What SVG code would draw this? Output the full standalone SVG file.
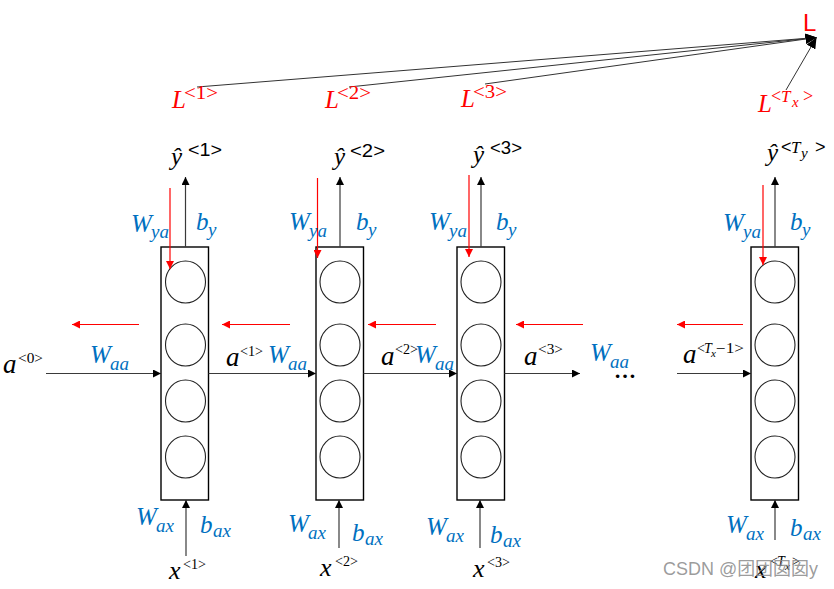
<svg xmlns="http://www.w3.org/2000/svg" width="834" height="589" viewBox="0 0 834 589">
<style>
.bg{fill:#fff}
.cell{fill:#fff;stroke:#000;stroke-width:1.4}
.neu{fill:none;stroke:#222;stroke-width:1.1}
.k{stroke:#3a3a3a;stroke-width:1.2;fill:none}
.r{stroke:#ff0000;stroke-width:1.2;fill:none}
.lk{stroke:#333;stroke-width:1;fill:none}
.mi{font-family:"Liberation Serif","DejaVu Serif",serif;font-style:italic}
.up{font-family:"Liberation Serif","DejaVu Serif",serif;font-style:normal}
.sans{font-family:"Liberation Sans","DejaVu Sans",sans-serif;font-style:normal}
.blue{fill:#0070c0}
.red{fill:#ff0000}
.blk{fill:#000}
.wm{font-family:"Liberation Sans","Noto Sans CJK SC",sans-serif;fill:#8a8a8a;fill-opacity:0.85}
</style>
<defs>
<marker id="ak" markerUnits="userSpaceOnUse" markerWidth="9" markerHeight="8" refX="8" refY="4" orient="auto"><path d="M0,0 L8,4 L0,8 z" fill="#000"/></marker>
<marker id="ar" markerUnits="userSpaceOnUse" markerWidth="9" markerHeight="8" refX="8" refY="4" orient="auto"><path d="M0,0 L8,4 L0,8 z" fill="#ff0000"/></marker>
<marker id="aL" markerUnits="userSpaceOnUse" markerWidth="12" markerHeight="10" refX="11" refY="5" orient="auto"><path d="M0,0 L11,5 L0,10 z" fill="#000"/></marker>
</defs>
<rect class="bg" x="0" y="0" width="834" height="589"/>

<g id="cell1">
<rect class="cell" x="161" y="247" width="47.5" height="253"/>
<ellipse class="neu" cx="185.5" cy="282" rx="20" ry="21"/>
<ellipse class="neu" cx="185.5" cy="345" rx="20" ry="21"/>
<ellipse class="neu" cx="185.5" cy="401" rx="20" ry="21"/>
<ellipse class="neu" cx="185.5" cy="457" rx="20" ry="21"/>
</g>
<g id="cell2">
<rect class="cell" x="316" y="247" width="47.5" height="253"/>
<ellipse class="neu" cx="340" cy="282" rx="20" ry="21"/>
<ellipse class="neu" cx="340" cy="345" rx="20" ry="21"/>
<ellipse class="neu" cx="340" cy="401" rx="20" ry="21"/>
<ellipse class="neu" cx="340" cy="457" rx="20" ry="21"/>
</g>
<g id="cell3">
<rect class="cell" x="457" y="247" width="47.5" height="253"/>
<ellipse class="neu" cx="481" cy="282" rx="20" ry="21"/>
<ellipse class="neu" cx="481" cy="345" rx="20" ry="21"/>
<ellipse class="neu" cx="481" cy="401" rx="20" ry="21"/>
<ellipse class="neu" cx="481" cy="457" rx="20" ry="21"/>
</g>
<g id="cell4">
<rect class="cell" x="751" y="247" width="47.5" height="253"/>
<ellipse class="neu" cx="775" cy="282" rx="20" ry="21"/>
<ellipse class="neu" cx="775" cy="345" rx="20" ry="21"/>
<ellipse class="neu" cx="775" cy="401" rx="20" ry="21"/>
<ellipse class="neu" cx="775" cy="457" rx="20" ry="21"/>
</g>

<g id="connectors">
<line class="lk" x1="197" y1="87" x2="816.5" y2="37.5" marker-end="url(#aL)"/>
<line class="lk" x1="349" y1="87" x2="816.5" y2="37.5" marker-end="url(#aL)"/>
<line class="lk" x1="485" y1="84" x2="816.5" y2="37.5" marker-end="url(#aL)"/>
<line class="lk" x1="786" y1="90" x2="816.5" y2="37.5" marker-end="url(#aL)"/>
<line class="k" x1="185.5" y1="247" x2="185.5" y2="177" marker-end="url(#ak)"/>
<line class="k" x1="340" y1="247" x2="340" y2="177" marker-end="url(#ak)"/>
<line class="k" x1="481" y1="247" x2="481" y2="177" marker-end="url(#ak)"/>
<line class="k" x1="775" y1="247" x2="775" y2="177" marker-end="url(#ak)"/>
<line class="r" x1="170" y1="188" x2="170" y2="269" marker-end="url(#ar)"/>
<line class="r" x1="317.5" y1="178" x2="317.5" y2="258" marker-end="url(#ar)"/>
<line class="r" x1="469" y1="175" x2="469" y2="257" marker-end="url(#ar)"/>
<line class="r" x1="763" y1="185" x2="763" y2="265" marker-end="url(#ar)"/>
<line class="k" x1="186" y1="556" x2="186" y2="500" marker-end="url(#ak)"/>
<line class="k" x1="339" y1="548" x2="339" y2="500" marker-end="url(#ak)"/>
<line class="k" x1="480" y1="548" x2="480" y2="500" marker-end="url(#ak)"/>
<line class="k" x1="775" y1="540" x2="775" y2="500" marker-end="url(#ak)"/>
<line class="k" x1="46" y1="373.5" x2="161" y2="373.5" marker-end="url(#ak)"/>
<line class="k" x1="208.5" y1="373.5" x2="316" y2="373.5" marker-end="url(#ak)"/>
<line class="k" x1="363.5" y1="373.5" x2="457" y2="373.5" marker-end="url(#ak)"/>
<line class="k" x1="504.5" y1="373.5" x2="580" y2="373.5" marker-end="url(#ak)"/>
<line class="k" x1="677" y1="373.5" x2="751" y2="373.5" marker-end="url(#ak)"/>
<line class="r" x1="139" y1="324.5" x2="72" y2="324.5" marker-end="url(#ar)"/>
<line class="r" x1="290" y1="324.5" x2="222" y2="324.5" marker-end="url(#ar)"/>
<line class="r" x1="436" y1="324.5" x2="368" y2="324.5" marker-end="url(#ar)"/>
<line class="r" x1="583" y1="324.5" x2="516" y2="324.5" marker-end="url(#ar)"/>
<line class="r" x1="743" y1="324.5" x2="677" y2="324.5" marker-end="url(#ar)"/>
</g>

<g id="loss-labels">
<text class="sans red" x="803" y="31" font-size="24">L</text>
<text class="mi red" font-size="25"><tspan x="172" y="108">L</tspan><tspan class="up" x="184" y="99" font-size="18" textLength="34" lengthAdjust="spacingAndGlyphs">&lt;1&gt;</tspan></text>
<text class="mi red" font-size="25"><tspan x="325" y="108">L</tspan><tspan class="up" x="337" y="99" font-size="18" textLength="34" lengthAdjust="spacingAndGlyphs">&lt;2&gt;</tspan></text>
<text class="mi red" font-size="25"><tspan x="461" y="107">L</tspan><tspan class="up" x="473" y="98" font-size="18" textLength="34" lengthAdjust="spacingAndGlyphs">&lt;3&gt;</tspan></text>
<text class="mi red" font-size="25"><tspan x="758" y="112">L</tspan><tspan class="up" x="771" y="102" font-size="18">&lt;</tspan><tspan x="781" y="101.5" font-size="17">T</tspan><tspan x="792" y="107" font-size="15">x</tspan><tspan class="up" x="803" y="102" font-size="18">&gt;</tspan></text>
</g>

<g id="output-labels">
<text class="mi blk" font-size="25"><tspan x="171" y="165">ŷ</tspan><tspan class="sans" x="188" y="156" font-size="18" textLength="34" lengthAdjust="spacingAndGlyphs">&lt;1&gt;</tspan></text>
<text class="mi blk" font-size="25"><tspan x="334" y="165">ŷ</tspan><tspan class="sans" x="350" y="157" font-size="18" textLength="35" lengthAdjust="spacingAndGlyphs">&lt;2&gt;</tspan></text>
<text class="mi blk" font-size="25"><tspan x="473" y="163">ŷ</tspan><tspan class="sans" x="490" y="154" font-size="18" textLength="32" lengthAdjust="spacingAndGlyphs">&lt;3&gt;</tspan></text>
<text class="mi blk" font-size="25"><tspan x="767" y="161">ŷ</tspan><tspan class="sans" x="781" y="153" font-size="18">&lt;</tspan><tspan x="791" y="153" font-size="17">T</tspan><tspan x="801" y="158" font-size="15">y</tspan><tspan class="sans" x="815" y="153" font-size="18">&gt;</tspan></text>
</g>

<g id="weight-labels">
<text class="mi blue"><tspan x="131" y="232" font-size="25">W</tspan><tspan x="151" y="238" font-size="19">ya</tspan></text>
<text class="mi blue"><tspan x="196" y="230" font-size="25">b</tspan><tspan x="208" y="236" font-size="19">y</tspan></text>
<text class="mi blue"><tspan x="289" y="230" font-size="25">W</tspan><tspan x="309" y="237" font-size="19">ya</tspan></text>
<text class="mi blue"><tspan x="356" y="230" font-size="25">b</tspan><tspan x="368" y="236" font-size="19">y</tspan></text>
<text class="mi blue"><tspan x="429" y="230" font-size="25">W</tspan><tspan x="449" y="237" font-size="19">ya</tspan></text>
<text class="mi blue"><tspan x="496" y="230" font-size="25">b</tspan><tspan x="508" y="236" font-size="19">y</tspan></text>
<text class="mi blue"><tspan x="723" y="231" font-size="25">W</tspan><tspan x="743" y="238" font-size="19">ya</tspan></text>
<text class="mi blue"><tspan x="790" y="230" font-size="25">b</tspan><tspan x="802" y="236" font-size="19">y</tspan></text>

<text class="mi blue"><tspan x="90" y="363" font-size="25">W</tspan><tspan x="110" y="370" font-size="19">aa</tspan></text>
<text class="mi blue"><tspan x="268" y="363" font-size="25">W</tspan><tspan x="288" y="370" font-size="19">aa</tspan></text>
<text class="mi blue"><tspan x="415" y="363" font-size="25">W</tspan><tspan x="435" y="370" font-size="19">aa</tspan></text>
<text class="mi blue"><tspan x="590" y="361" font-size="25">W</tspan><tspan x="610" y="368" font-size="19">aa</tspan></text>

<text class="mi blue"><tspan x="136" y="525" font-size="25">W</tspan><tspan x="156" y="532" font-size="19">ax</tspan></text>
<text class="mi blue"><tspan x="200" y="533" font-size="25">b</tspan><tspan x="213" y="537" font-size="19">ax</tspan></text>
<text class="mi blue"><tspan x="288" y="532" font-size="25">W</tspan><tspan x="308" y="539" font-size="19">ax</tspan></text>
<text class="mi blue"><tspan x="352" y="541" font-size="25">b</tspan><tspan x="365" y="545" font-size="19">ax</tspan></text>
<text class="mi blue"><tspan x="426" y="535" font-size="25">W</tspan><tspan x="446" y="542" font-size="19">ax</tspan></text>
<text class="mi blue"><tspan x="490" y="543" font-size="25">b</tspan><tspan x="503" y="547" font-size="19">ax</tspan></text>
<text class="mi blue"><tspan x="726" y="533" font-size="25">W</tspan><tspan x="746" y="540" font-size="19">ax</tspan></text>
<text class="mi blue"><tspan x="790" y="536" font-size="25">b</tspan><tspan x="803" y="540" font-size="19">ax</tspan></text>
</g>

<g id="state-labels">
<text class="mi blk" font-size="27"><tspan x="3" y="373">a</tspan><tspan class="up" x="18" y="363" font-size="15" textLength="25" lengthAdjust="spacingAndGlyphs">&lt;0&gt;</tspan></text>
<text class="mi blk" font-size="27"><tspan x="226" y="366">a</tspan><tspan class="up" x="240" y="356" font-size="15" textLength="23" lengthAdjust="spacingAndGlyphs">&lt;1&gt;</tspan></text>
<text class="mi blk" font-size="27"><tspan x="381" y="365">a</tspan><tspan class="up" x="395" y="354" font-size="15" textLength="23" lengthAdjust="spacingAndGlyphs">&lt;2&gt;</tspan></text>
<text class="mi blk" font-size="27"><tspan x="524" y="365">a</tspan><tspan class="up" x="538" y="354" font-size="15" textLength="25" lengthAdjust="spacingAndGlyphs">&lt;3&gt;</tspan></text>
<text class="up blk" x="614" y="378" font-size="22" font-weight="bold">…</text>
<text class="mi blk" font-size="27"><tspan x="683" y="363">a</tspan><tspan class="up" x="697" y="353" font-size="14">&lt;</tspan><tspan x="704" y="353" font-size="14">T</tspan><tspan x="711" y="357" font-size="11">x</tspan><tspan class="up" x="716" y="353" font-size="14" textLength="28" lengthAdjust="spacingAndGlyphs">−1&gt;</tspan></text>

<text class="mi blk" font-size="26"><tspan x="169" y="579">x</tspan><tspan class="up" x="183" y="569" font-size="15" textLength="23" lengthAdjust="spacingAndGlyphs">&lt;1&gt;</tspan></text>
<text class="mi blk" font-size="26"><tspan x="320" y="576">x</tspan><tspan class="up" x="335" y="566" font-size="15" textLength="23" lengthAdjust="spacingAndGlyphs">&lt;2&gt;</tspan></text>
<text class="mi blk" font-size="26"><tspan x="473" y="577">x</tspan><tspan class="up" x="487" y="567" font-size="15" textLength="23" lengthAdjust="spacingAndGlyphs">&lt;3&gt;</tspan></text>
<text class="mi blk" font-size="26"><tspan x="755" y="578">x</tspan><tspan class="up" x="770" y="566" font-size="14">&lt;</tspan><tspan x="777" y="566" font-size="14">T</tspan><tspan x="785" y="570" font-size="11">x</tspan><tspan class="up" x="792" y="566" font-size="14">&gt;</tspan></text>
</g>

<text class="wm" x="663" y="575" font-size="18" textLength="155" lengthAdjust="spacingAndGlyphs">CSDN @团团囡囡y</text>
</svg>
